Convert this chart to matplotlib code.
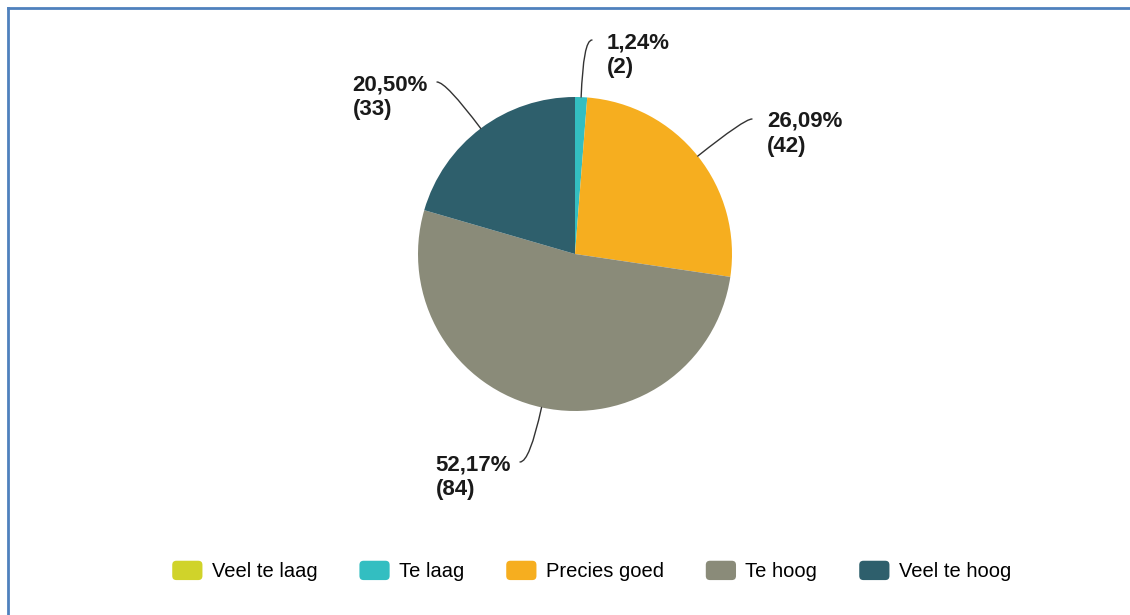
import numpy as np
import matplotlib
matplotlib.use('Agg')
import matplotlib.pyplot as plt
from matplotlib.patches import Wedge, FancyBboxPatch
from matplotlib.legend_handler import HandlerPatch
from matplotlib.lines import Line2D

plt.rcParams['font.family'] = ['Liberation Sans', 'DejaVu Sans']

# antwoordverdeling
categories = ['Veel te laag', 'Te laag', 'Precies goed', 'Te hoog', 'Veel te hoog']
counts = [0, 2, 42, 84, 33]
colors = ['#d0d32a', '#33bec1', '#f6ae1f', '#8a8b79', '#2e5f6c']

W, H = 1130, 615
CENTER = (575, H - 254)
RADIUS = 157

# eindpunt van de verbindingslijn per label (pixels, y naar beneden)
label_ends = {
    'Te laag': (592, 40),
    'Precies goed': (752, 119),
    'Te hoog': (520, 462),
    'Veel te hoog': (437, 82),
}

fig = plt.figure(figsize=(W / 100, H / 100), dpi=100)
ax = fig.add_axes([0, 0, 1, 1])

wedges, _ = ax.pie(counts, colors=colors, startangle=90, counterclock=False,
                   center=CENTER, radius=RADIUS,
                   wedgeprops=dict(linewidth=0))
ax.set_xlim(0, W)
ax.set_ylim(0, H)
ax.set_aspect('equal')
ax.axis('off')

total = sum(counts)
for name, value, w in zip(categories, counts, wedges):
    if value == 0:
        continue
    mid = np.deg2rad((w.theta1 + w.theta2) / 2)
    px = CENTER[0] + RADIUS * np.cos(mid)
    py = CENTER[1] + RADIUS * np.sin(mid)
    ex, ey = label_ends[name]
    ey = H - ey
    ax.annotate('', xy=(px, py), xytext=(ex, ey),
                arrowprops=dict(arrowstyle='-', color='#333333', lw=1.0,
                                shrinkA=0, shrinkB=0,
                                connectionstyle=f'angle3,angleA=0,angleB={np.rad2deg(mid):.1f}'))
    label = f'{100 * value / total:.2f}'.replace('.', ',') + f'%\n({value})'
    right_side = ex > CENTER[0] + 5
    tx = ex + 15 if right_side else ex - 9
    ax.text(tx, ey + 8, label, ha='left' if right_side else 'right', ma='left',
            va='top', fontsize=16, fontweight='bold', color='#1a1a1a',
            linespacing=1.25)


def rounded_key(legend, orig_handle, xdescent, ydescent, width, height, fontsize):
    return FancyBboxPatch((-xdescent, -ydescent), width, height,
                          boxstyle='round,pad=0,rounding_size=3')


fig.legend(wedges, categories, loc='center', bbox_to_anchor=(591.5 / W, (H - 571) / H),
           ncol=5, frameon=False, fontsize=14.5, handlelength=1.5, handleheight=1.1,
           handletextpad=0.45, columnspacing=2.1,
           handler_map={Wedge: HandlerPatch(patch_func=rounded_key)})

# blauwe kaderlijnen boven en links
fig.add_artist(Line2D([8 / W, 1], [1 - 7.5 / H, 1 - 7.5 / H], color='#4f81bd', lw=2.0,
                      transform=fig.transFigure))
fig.add_artist(Line2D([8 / W, 8 / W], [0, 1 - 7.5 / H], color='#4f81bd', lw=2.0,
                      transform=fig.transFigure))

fig.savefig('out.png', dpi=100)
